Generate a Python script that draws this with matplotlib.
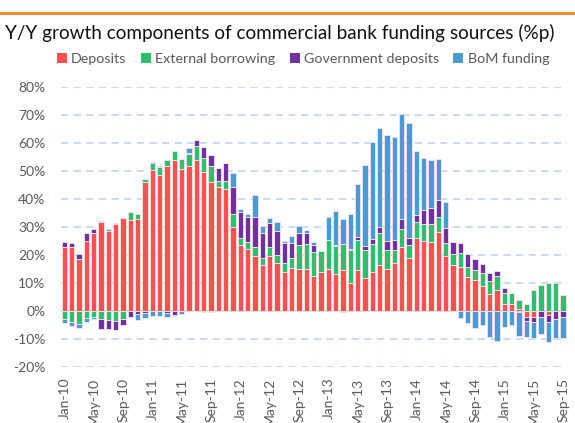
import numpy as np
import matplotlib
matplotlib.use("Agg")
import matplotlib.pyplot as plt
from matplotlib.patches import Patch

plt.rcParams['font.family'] = ['Lato', 'DejaVu Sans']

# Y/Y growth components, percentage points, Jan-10 .. Sep-15
deposits = [22.9, 22.6, 18.5, 24.8, 27.7, 31.7, 28.5, 31.0, 33.2, 32.4,
            32.6, 46.1, 50.1, 48.3, 51.7, 53.7, 50.5, 51.8, 54.0, 49.6,
            46.0, 44.3, 43.6, 29.9, 23.3, 22.1, 19.4, 16.4, 19.4, 16.9,
            13.9, 15.4, 14.9, 15.0, 12.5, 13.9, 15.0, 13.0, 14.5, 9.9,
            14.6, 11.8, 13.7, 16.3, 14.8, 16.9, 22.6, 19.0, 26.0, 24.9,
            24.6, 28.2, 19.6, 16.2, 15.6, 12.1, 11.1, 8.9, 6.1, 7.5,
            2.5, 2.5, 0.5, -2.1, -2.1, 0.0, -1.7, 0.0, 0.0]
external = [-3.1, -3.9, -4.8, -2.7, -2.4, -2.9, -3.3, -3.6, -2.9, 3.0,
            1.8, 1.0, 2.5, 2.9, 2.1, 3.3, 3.6, 4.2, 4.9, 5.0,
            5.7, 2.0, 2.6, 4.8, 2.6, 2.3, 3.2, 2.4, 3.2, 3.1,
            3.2, 3.5, 8.7, 9.0, 8.5, 7.6, 10.4, 10.2, 9.5, 11.7,
            10.8, 9.9, 10.0, 11.3, 6.9, 4.8, 6.5, 4.4, 5.6, 6.1,
            6.5, 5.2, 4.6, 4.0, 4.9, 3.6, 3.5, 4.4, 4.4, 5.0,
            3.8, 4.0, 3.2, 2.3, 7.3, 9.2, 9.9, 9.9, 5.6]
government = [1.8, 1.5, 1.8, 3.1, 1.5, -3.6, -3.3, -3.2, -2.1, -2.1,
              -1.3, -0.8, 0.5, 0.5, -0.7, -1.4, 0.0, 0.5, 1.9, 4.0,
              3.9, 4.5, 6.4, 9.5, 9.3, 9.2, 10.8, 8.9, 8.7, 8.5,
              7.0, 5.4, 4.2, 3.7, 2.4, 0.0, 0.0, 0.4, -0.6, 0.5,
              0.8, 1.5, 2.0, 2.3, 3.3, 3.6, 3.6, 2.5, 2.6, 5.1,
              5.5, 6.2, 5.2, 4.4, 3.8, 4.4, 3.9, 3.5, 3.1, 1.7,
              1.7, 0.0, -0.5, -1.4, -1.8, -2.1, -2.3, -3.1, -2.1]
bom = [-1.4, -1.5, -1.4, -1.5, -0.5, 0.2, 0.7, 0.2, 0.0, 0.0,
       -1.9, -1.8, -1.9, -2.0, -1.7, -0.5, -1.0, 1.5, 0.0, -0.5,
       -0.3, 0.0, 0.0, 5.1, 1.3, 1.1, 8.1, 2.5, 1.8, 3.1,
       0.8, 2.3, 2.5, 1.0, 1.2, 0.0, 8.0, 12.0, 8.7, 12.6,
       19.2, 28.8, 34.5, 35.5, 37.7, 36.7, 37.4, 41.0, 22.7, 18.5,
       17.1, 14.6, 9.6, 0.0, -2.6, -4.5, -6.2, -5.1, -9.3, -10.7,
       -5.7, -5.2, -8.6, -6.0, -5.8, -6.2, -7.1, -6.5, -7.5]

series_names = ["Deposits", "External borrowing", "Government deposits", "BoM funding"]
colors = ["#FF4F4F", "#2DBE6E", "#7030A0", "#4A9BD5"]

tick_labels = ["Jan-10", "May-10", "Sep-10", "Jan-11", "May-11", "Sep-11",
               "Jan-12", "May-12", "Sep-12", "Jan-13", "May-13", "Sep-13",
               "Jan-14", "May-14", "Sep-14", "Jan-15", "May-15", "Sep-15"]

fig = plt.figure(figsize=(5.75, 4.23), dpi=100)
ax = fig.add_axes([0.1056, 0.133, 0.880, 0.662])

x = np.arange(len(deposits))
pos_base = np.zeros(len(x))
neg_base = np.zeros(len(x))
for vals, col in zip([deposits, external, government, bom], colors):
    v = np.array(vals)
    bottoms = np.where(v >= 0, pos_base, neg_base)
    ax.bar(x, v, bottom=bottoms, width=0.74, color=col,
           edgecolor="#F4E6E6", linewidth=0.6, zorder=3)
    pos_base += np.where(v >= 0, v, 0)
    neg_base += np.where(v < 0, v, 0)

ax.set_ylim(-20, 80)
ax.set_xlim(-0.5, len(x) - 0.5)
ax.set_yticks(np.arange(-20, 81, 10))
ax.set_yticklabels([f"{t}%" for t in range(-20, 81, 10)])
ax.set_xticks(x[::4])
ax.set_xticklabels(tick_labels, rotation=90)

for y in range(-20, 81, 10):
    if y != 0:
        ax.axhline(y, color="#C6D9F1", lw=1.3, ls=(0, (4, 3)), zorder=1)
ax.axhline(0, color="#D9D9D9", lw=1.5, zorder=2)

for s in ax.spines.values():
    s.set_visible(False)
ax.tick_params(axis="y", length=0, pad=11, labelsize=10, labelcolor="#595959")
ax.tick_params(axis="x", length=0, pad=8, labelsize=10, labelcolor="#595959")

# header line and title
fig.add_artist(plt.Line2D([0, 1], [0.969, 0.969], color="#F08A3C", lw=2.2))
fig.text(0.008, 0.921, "Y/Y growth components of commercial bank funding sources (%p)",
         fontsize=13.6, color="#111111", va="center", ha="left")

handles = [Patch(facecolor=c, edgecolor="none") for c in colors]
fig.legend(handles, series_names, loc="center", bbox_to_anchor=(0.527, 0.861),
           ncol=4, frameon=False, fontsize=10.3, labelcolor="#595959",
           handlelength=0.7, handleheight=0.7, handletextpad=0.3, columnspacing=1.0)

fig.savefig("out.png", dpi=100)
